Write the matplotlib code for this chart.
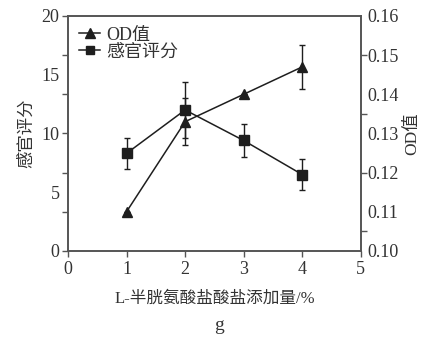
import numpy as np
import matplotlib.pyplot as plt
from matplotlib.ticker import MultipleLocator
from matplotlib.lines import Line2D

plt.rcParams['font.family'] = ['Liberation Serif', 'Noto Sans CJK SC']

# data
x = [1, 2, 3, 4]
score = [8.3, 12.0, 9.4, 6.5]          # 感官评分 (left axis)
score_err = [1.3, 2.4, 1.4, 1.3]
od = [0.110, 0.133, 0.140, 0.147]      # OD值 (right axis)
od_err = [0, 0.006, 0, 0.0057]

c = '#1e1e1e'
sc = '#555555'
tc = '#333333'

fig = plt.figure(figsize=(4.22, 3.4), dpi=100)
ax = fig.add_axes([0.161, 0.262, 0.694, 0.691])
ax2 = ax.twinx()

ax.errorbar(x, score, yerr=score_err, color=c, marker='s', markersize=6.5,
            lw=1.1, elinewidth=1.0, capsize=2.5, capthick=1.0)
ax2.errorbar(x, od, yerr=od_err, color=c, marker='^', markersize=7.5,
             lw=1.1, elinewidth=1.0, capsize=2.5, capthick=1.0)

ax.set_xlim(0, 5)
ax.set_ylim(0, 20)
ax2.set_ylim(0.10, 0.16)

# labels every 5 / 0.01, tick marks every 20/6 / 0.015
ax.xaxis.set_major_locator(MultipleLocator(1))
ax.yaxis.set_major_locator(MultipleLocator(5))
ax.yaxis.set_minor_locator(MultipleLocator(20 / 6))
ax2.yaxis.set_major_locator(MultipleLocator(0.01))
ax2.yaxis.set_minor_locator(MultipleLocator(0.015))
ax.yaxis.remove_overlapping_locs = False
ax2.yaxis.remove_overlapping_locs = False
ax2.yaxis.set_major_formatter(plt.FormatStrFormatter('%.2f'))

ax.tick_params(axis='y', which='major', length=0, labelsize=13, colors=tc, pad=6)
ax.tick_params(axis='y', which='minor', length=4, width=1.0, color=sc)
ax.tick_params(axis='x', length=4, width=1.0, color=sc, labelsize=13, labelcolor=tc)
ax2.tick_params(axis='y', which='major', length=0, labelsize=13, colors=tc, pad=5)
ax2.tick_params(axis='y', which='minor', length=4, width=1.0, color=sc)

for a in (ax, ax2):
    for s in a.spines.values():
        s.set_color(sc)
        s.set_linewidth(1.2)

ax.set_ylabel('感官评分', fontsize=12.5, color=tc, labelpad=5)
ax2.set_ylabel('OD值', fontsize=12.5, color=tc, labelpad=4)
ax.set_xlabel('L-半胱氨酸盐酸盐添加量/%', fontsize=12, color=tc, labelpad=9)
fig.text(0.52, 0.03, 'g', fontsize=14, color=tc, ha='center')

handles = [
    Line2D([], [], color=c, marker='^', markersize=7, lw=1.1),
    Line2D([], [], color=c, marker='s', markersize=6, lw=1.1),
]
ax.legend(handles, ['OD值', '感官评分'], loc='upper left', frameon=False,
          fontsize=13, handlelength=1.2, handletextpad=0.3,
          labelspacing=0.0, borderaxespad=0.2, labelcolor=tc)

fig.savefig('out.png', dpi=100)
